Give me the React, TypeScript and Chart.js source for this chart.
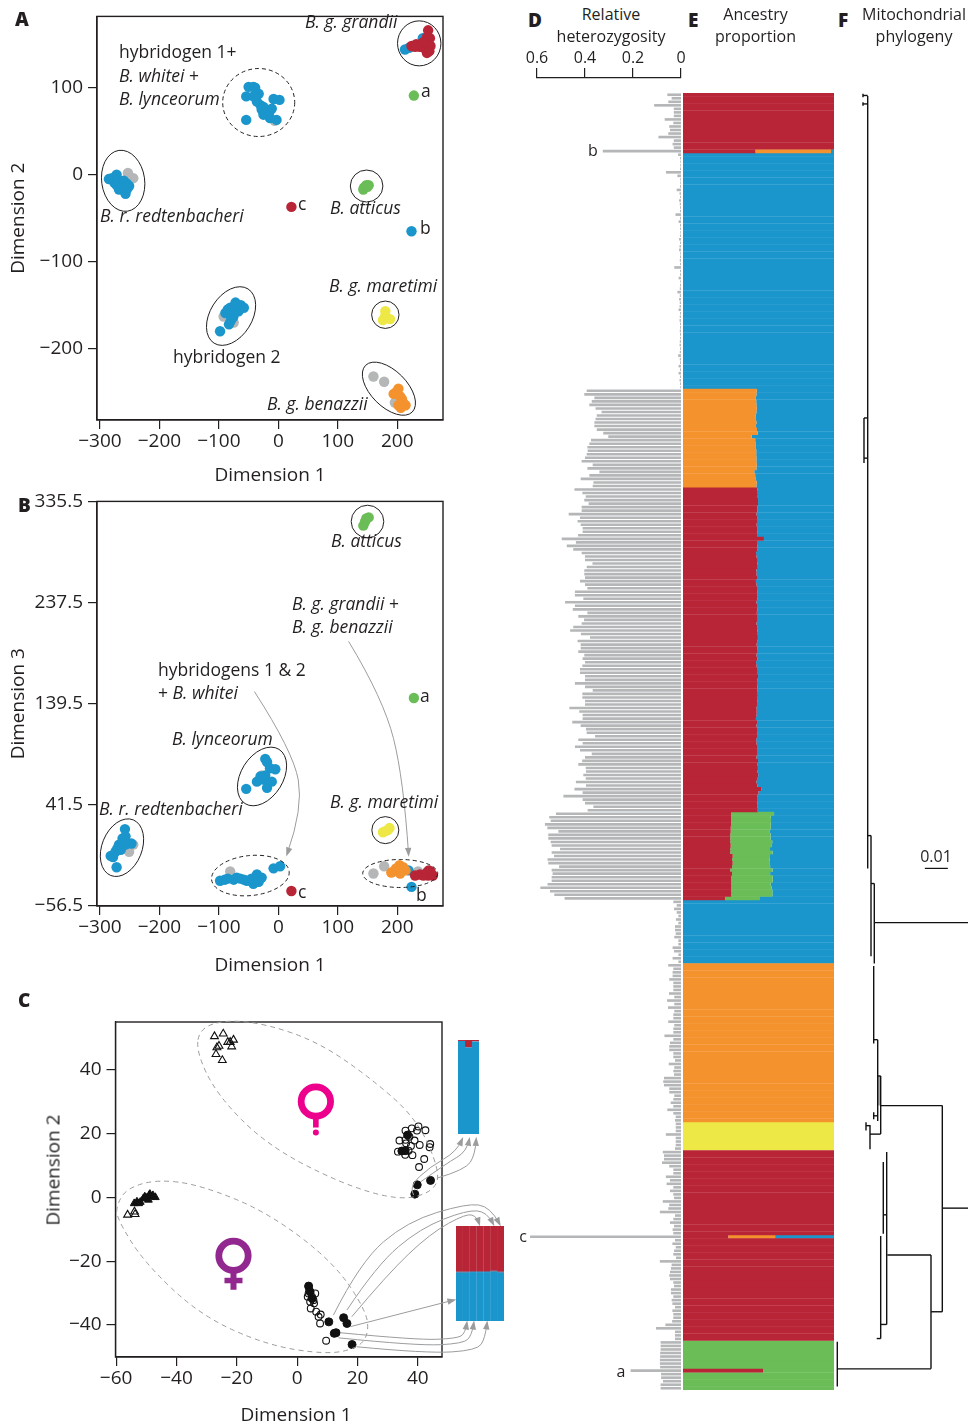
import { useEffect, useRef } from "react";
import { Chart, registerables } from "chart.js";
Chart.register(...registerables);

type P = [number, number];
const FONT = '"Open Sans", sans-serif';
const INK = "#231f20";
const RED = "#b82537";
const BLUE = "#1b96cc";
const ORANGE = "#f4922d";
const YELLOW = "#eee847";
const GREEN = "#6abd57";
const GREY = "#b4b6b7";
const ARROW = "#9a9c9e";

/* ---------- Panel A: dimension 1 vs dimension 2 ---------- */
const aRed: P[] = [[224,148],[232,150],[238,147],[245,146],[250,150],[255,157],[252,166],[250,158],[256,148],[250,140],[254,142],[243,152],[230,147],[22,-37]];
const aBlue: P[] = [[213,144],[220,146],[243,157],
  [-54,90],[-50,101],[-42,101],[-39,100],[-33,93],[-36,84],[-30,80],[-25,78],[-11,76],[-25,69],[-14,65],[-3,63],[-54,63],[-8,87],[2,86],[-20,72],[-15,72],[-42,90],[-28,75],
  [-285,-5],[-280,-4],[-272,0],[-276,-9],[-270,-6],[-266,-13],[-262,-9],[-257,-22],[-251,-13],[-260,-7],[-268,-17],[-260,-18],[-254,-16],[-272,-12],[-255,-10],
  [-98,-180],[-83,-172],[-80,-168],[-76,-164],[-89,-159],[-85,-155],[-81,-153],[-75,-161],[-72,-147],[-67,-157],[-63,-150],[-58,-153],[-70,-152],[-78,-158],
  [224,-65]];
const aGreen: P[] = [[228,91],[143,-17],[146,-14],[148,-12],[152,-12],[144,-15],[150,-14]];
const aYellow: P[] = [[180,-157],[176,-167],[188,-166],[180,-162]];
const aOrange: P[] = [[202,-246],[194,-252],[208,-258],[214,-265],[202,-265],[205,-255],[198,-250],[210,-262],[206,-268]];
const aGrey: P[] = [[-6,62],[-253,2],[-244,-4],[-92,-163],[-75,-170],[160,-232],[178,-238],[196,-262]];

/* ---------- Panel B: dimension 1 vs dimension 3 ---------- */
const bRed: P[] = [[22,-42],[230,-27],[238,-26],[253,-22],[252,-27],[244,-27],[260,-27],[250,-24],[256,-23]];
const bOrange: P[] = [[194,-23],[204,-17],[214,-22],[205,-25],[190,-24],[198,-20],[210,-19]];
const bYellow: P[] = [[176,15],[187,19],[180,16],[184,17]];
const bGreen: P[] = [[143,312],[152,320],[146,316],[148,319],[228,145]];
const bBlue: P[] = [[224,-38],[219,-22],
  [-54,57],[-22,86],[-5,76],[-36,64],[-19,58],[-11,64],[-25,66],[-19,83],[-14,77],[-22,70],[-30,69],
  [-272,-19],[-282,-8],[-258,18],[-247,4],[-268,3],[-262,9],[-274,-4],[-257,11],[-271,-1],[-257,3],[-278,-9],[-265,-2],
  [-98,-32],[-85,-30],[-75,-31],[-64,-30],[-53,-32],[-42,-35],[-36,-26],[-28,-29],[-33,-33],[-45,-30],[-8,-20],[3,-18],[-90,-31],[-70,-29],[-58,-31],[-38,-30]];
const bGrey: P[] = [[-28,70],[-251,-4],[-244,3],[-81,-23],[160,-25],[178,-18],[235,-23]];

/* ---------- Panel C: second ordination ---------- */
const cOpenTriangles: P[] = [[-27.4,50.4],[-24.5,51.2],[-21.1,49.3],[-23,48.6],[-25.9,47.4],[-26.6,46.9],[-21.7,47.2],[-26.9,44.8],[-24.8,42.9],[-22.2,48.6],[-56.2,-5.5],[-53.7,-5.3],[-53.9,-4.5]];
const cFilledTriangles: P[] = [[-54,-1.9],[-53.1,-1.4],[-52,-1.5],[-51,-.4],[-50,-.2],[-49,.7],[-48,.2],[-47,0],[-52.5,-1.9],[-49.3,-.8],[-50.5,.2],[-48.8,1],[-47.8,.6]];
const cOpenCircles: P[] = [[35.9,20.9],[38,21.6],[40.2,22.2],[42.5,21],[39.7,20.9],[33.9,17.8],[35.9,18],[38.9,17.8],[40.6,16.4],[44.1,16.7],[43.9,15.7],[37.7,16.1],[33.4,14.3],[35.8,13.3],[38.2,13.2],[42.1,12],[40.4,9.5],[36.9,14.6],[36.1,16.9],[37.2,19],
  [3.8,-28],[4,-29],[3.8,-30.1],[6,-30.1],[3.5,-31.1],[4.9,-31.1],[5.4,-32.2],[4.3,-32.7],[5.6,-33.2],[4.5,-34.8],[6.3,-35.8],[7.8,-36.7],[7.1,-37.4],[7.6,-39.5],[9.6,-44.9]];
const cFilledCircles: P[] = [[36.6,19.5],[34.7,14.5],[35.8,14.6],[39.8,3.9],[44.2,5.3],[39,1],
  [3.8,-27.8],[4.3,-29.6],[5,-31.7],[10.5,-39],[15.4,-37.7],[16.5,-39.5],[12.9,-42.4],[12.3,-42.6],[18.2,-46.1]];

/* Ancestry insets linked to panel C's filled circles */
const insetOneBlue = [0.99, 0.92, 0.985];
const insetOneRed = [0.01, 0.08, 0.015];
const insetTwoBlue = [0.515, 0.515, 0.52, 0.52, 0.52, 0.525, 0.515];
const insetTwoRed = [0.485, 0.485, 0.48, 0.48, 0.48, 0.475, 0.485];

/* ---------- Panels D + E: one row per individual, top to bottom ---------- */
const hetTop = [.057,.039,.053,.112,.03,.03,.03,.068,.032,.049,.046,.053,.094,.03,.035,.03,.326];
const hetBlueA = [.012,.004,.003,.003,.004,.0625,.015,.003,.003,.004,
  .018,.006,.004,.008,.005,.004,.004,.023,.004,.01,
  .004,.004,.003,.004,.008,.004,.006,.008,.003,.004,
  .005,.004,.028,.004,.004,.01,.003,.004,.005,.015,
  .005,.008,.005,.006,.01,.004,.005,.006,.004,.004,
  .005,.004,.004,.005,.006,.004,.005,.012,.005,.004,
  .01,.004,.01,.004,.006,.004,.003];
const hetHybridOrange = [.393,.403,.361,.372,.382,.356,.331,.351,.356,.361,.361,.351,.324,.303,.375,.382,.39,.389,.393,.4,.414,.368,.39,.34,.382,.418,.365,.368];
const hetHybridRed = [.444,.411,.397,.403,.385,.414,.414,.468,.421,.431,.418,.41,.41,.429,.497,.438,.476,.449,.414,.4,.4,.369,.393,.403,.403,.4,.421,.4,.39,.442,.442,.407,.483,.442,.451,.39,.428,.404,.414,.449,.462,.417,.379,.431,.418,.418,.428,.403,.41,
  .4,.411,.421,.421,.4,.4,.442,.4,.368,.411,.411,.4,.4,.465,.424,.41,.41,.453,.418,.396,.393,.358,.428,.41,.442,.421,.372,.4,.412,.428,.397,.396,.407,.397,.438,.396,.444,.41,.49,.41,.4,.365,.389];
const hetTriploid = [.521,.549,.543,.567,.557,.511,.553,.553,.543,.539,.504,.539,.529,.556,.553,.508,.539,.535,.539,.539,.556,.586,.546,.528,.485];
const hetBlueB = [.032,.018,.029,.018,.011,.021,.011,.025,.025,.022,.028,.011,.011,.035,.029,.011,.035,.011];
const hetOrange = [.053,.032,.035,.035,.049,.032,.032,.032,.05,.028,.058,.028,.054,.028,.032,.032,.053,.028,.032,.032,.069,.032,.046,.049,.049,.032,.032,.025,.051,.028,.032,.029,.071,.074,.071,.049,.049,.028,.032,.043,.032,.057,.032,.022,.025];
const hetYellow = [.022,.022,.022,.063,.022,.022,.022,.025];
const hetRed = [.076,.071,.071,.079,.049,.032,
  .032,.063,.046,.06,.032,.046,.032,.029,.076,.049,.053,.088,.025,.032,.046,.029,.035,.032,.629,.025,
  .036,.022,.029,.032,.021,.088,.039,.042,.046,.049,.046,.032,.029,.042,.042,.032,.039,.036,.025,.036,
  .032,.032,.037,.065,.104,.025,.025,.025];
const hetGreen = [.085,.085,.085,.087,.087,.088,.088,.087,.21,.083,.083,.075,.085,.085];
const heterozygosity = [...hetTop,...hetBlueA,...hetHybridOrange,...hetHybridRed,...hetTriploid,...hetBlueB,...hetOrange,...hetYellow,...hetRed,...hetGreen];
const rows = heterozygosity.map((_, i) => String(i + 1));

const same = (n: number, v: number) => new Array(n).fill(v);
const orangeInHybrid = [.488,.486,.483,.485,.486,.488,.486,.48,.483,.486,.483,.49,.495,.455,.478,.483,.483,.485,.485,.486,.486,.488,.486,.472,.478,.483,.488,.486];
const redInHybrid = [.493,.495,.49,.497,.497,.492,.493,.487,.494,.49,.488,.491,.493,.49,.536,.49,.492,.494,.484,.487,.49,.493,.495,.486,.487,.49,.483,.487,.49,.492,.491,.493,.486,.49,.492,.489,.495,.49,.487,.491,.493,.49,.496,.491,.488,.493,.49,.487,.493,
  .484,.487,.49,.495,.497,.493,.49,.492,.494,.495,.49,.492,.49,.487,.488,.487,.483,.49,.487,.49,.494,.49,.485,.487,.49,.49,.49,.487,.497,.494,.496,.494,.498,.49,.486,.493,.52,.5,.494,.49,.493,.494,.495];
const redInTriploid = [.318,.318,.318,.318,.316,.316,.313,.313,.313,.316,.313,.313,.329,.325,.329,.325,.313,.325,.318,.32,.32,.318,.32,.32,.278];
const greenInTriploid = [.285,.263,.265,.263,.265,.256,.267,.267,.278,.269,.258,.28,.247,.249,.243,.252,.28,.252,.276,.274,.26,.269,.272,.272,.227];
const ancestryRed = [...same(16,1),.48,...same(67,0),...same(28,0),...redInHybrid,...redInTriploid,...same(18,0),...same(45,0),...same(8,0),...same(24,1),.3,...same(29,1),...same(8,0),.53,...same(5,0)];
const ancestryOrange = [...same(16,0),.5,...same(67,0),...orangeInHybrid,...same(92,0),...same(25,0),...same(18,0),...same(45,1),...same(8,0),...same(24,0),.31,...same(29,0),...same(14,0)];
const ancestryGreen = [...same(17,0),...same(67,0),...same(28,0),...same(92,0),...greenInTriploid,...same(18,0),...same(45,0),...same(8,0),...same(54,0),...same(8,1),.47,...same(5,1)];
const ancestryYellow = [...same(17,0),...same(67,0),...same(28,0),...same(92,0),...same(25,0),...same(18,0),...same(45,0),...same(8,1),...same(54,0),...same(14,0)];
const ancestryBlue = rows.map((_, i) => Math.max(0, 1 - ancestryRed[i] - ancestryOrange[i] - ancestryGreen[i] - ancestryYellow[i]));

/* ---------- Panel F: tree branches [x1, row1, x2, row2], x in units of 0.01 subs/site ---------- */
const treeBranches: number[][] = [
  [1.465,.85,1.465,220],[1.26,.7,1.465,.7],[1.26,3.1,1.465,3.1],[1.26,.2,1.26,1.2],[1.26,2.6,1.26,3.6],
  [1.304,92.2,1.465,92.2],[1.304,92.2,1.304,105],[1.304,103.6,1.465,103.6],
  [1.465,210.7,1.609,210.7],[1.609,210.7,1.609,244.9],[1.609,224.3,1.752,224.3],[1.752,224.3,1.752,247],[1.752,235.4,5.826,235.4],
  [1.726,247.7,1.726,269.7],[1.726,268.6,1.9,268.6],[1.9,268.6,1.9,291.7],[1.726,290.2,1.9,290.2],[1.726,289.2,1.726,291.2],
  [1.9,278.9,2.03,278.9],[2.03,278.9,2.03,295.4],[2.03,287.3,4.709,287.3],[1.565,295.4,2.03,295.4],[1.565,292.8,1.565,299.7],[1.391,293,1.565,293],[1.391,292,1.391,294.4],
  [4.709,287.3,4.709,345.8],[4.217,345.8,4.709,345.8],[4.217,329.7,4.217,362],[2.317,329.7,4.217,329.7],[.143,362,4.217,362],[.143,354.3,.143,367],
  [2.291,300.5,2.291,349.4],[2.143,318.3,2.291,318.3],[2.143,303.3,2.143,323.7],[2.03,349.4,2.291,349.4],[2.03,324.3,2.03,353.4],[1.857,353.4,2.03,353.4],
  [4.709,316.4,5.826,316.4],
];
const treeShaded: P[] = [[1.965,278.9],[1.965,287.3]];
const treeScaleBar: P[] = [[3.95,220],[4.95,220]];

/* ---------- Annotations, all in each panel's data units ---------- */
type Ell = { c: P; rx: number; ry: number; rot?: number; dash?: boolean };
const aEllipses: Ell[] = [
  { c: [237,151], rx: 21.7, ry: 22.5 },
  { c: [-33,83], rx: 36, ry: 34, dash: true },
  { c: [-261,-7], rx: 21.5, ry: 30.7, rot: -8 },
  { c: [148.5,-13], rx: 16.3, ry: 16 },
  { c: [-79.5,-162.5], rx: 32, ry: 21, rot: -58 },
  { c: [180,-161], rx: 13.7, ry: 13.7 },
  { c: [186,-246], rx: 33, ry: 18, rot: 45 },
];
const bEllipses: Ell[] = [
  { c: [150,316], rx: 16.3, ry: 16.3 },
  { c: [-27.4,69], rx: 32, ry: 21, rot: -58 },
  { c: [-263,0], rx: 30, ry: 20, rot: -68 },
  { c: [-47,-27], rx: 39, ry: 20, rot: -6, dash: true },
  { c: [180,17], rx: 13.5, ry: 13.5 },
  { c: [205,-25], rx: 37.5, ry: 14, dash: true },
];
const bArrows: P[][] = [
  [[-40.3,151.3],[25.2,92.9],[42,38.3],[15,-5.7]],
  [[118.2,199.9],[177,144],[210.6,67.3],[219,-6]],
];
const cBlobs: P[][] = [
  [[-32.2,53],[-23.3,55.6],[-10.1,54.2],[6.5,48.8],[23.1,38.3],[39.7,24.7],[47.4,8],[45.2,1.8],[34.1,-1.1],[14.3,4.4],[-10.1,16.4],[-26.6,32.1],[-33.5,45.7]],
  [[-59.8,-2.4],[-56.5,2.8],[-46.5,5.6],[-32.2,3.9],[-10.1,-4.5],[12,-20.2],[23.1,-35.8],[23.6,-43.2],[19.8,-47.3],[9.8,-49.2],[-10.1,-46.3],[-32.2,-36.9],[-50.9,-20.2],[-59.8,-6.5]],
];
const cArrows: P[][] = [
  [[38.6,.7],[36.9,3.3],[44.1,9.6],[52.9,14.3],[54.6,18]],
  [[41,4.9],[49.6,10.7],[56.2,14.3],[57,18]],
  [[46.3,6],[55.7,8.6],[59,13.3],[59.3,18]],
  [[12,-36.9],[20.9,-20.2],[36.4,-7.6],[56.2,-1.9],[64,-2.9],[67,-8.2]],
  [[16.5,-35.3],[26.4,-21.2],[40.8,-9.7],[56.2,-4],[62.9,-4.5],[64.9,-8.2]],
  [[18.1,-37.4],[29.7,-24.3],[44.1,-11.3],[56.2,-5],[59.6,-6.1],[60.3,-8.2]],
  [[17.6,-40.5],[51.8,-32.2]],
  [[14.3,-42.4],[39.7,-44.7],[52.9,-44.2],[55.7,-42.6],[56.2,-39.5]],
  [[13.7,-44],[39.7,-46.5],[55.1,-45.8],[57.9,-43.2],[58.5,-39.5]],
  [[19.8,-46.8],[43,-48.9],[59.6,-47.9],[62.3,-44.2],[62.9,-39.5]],
];

/* ---------- Free text ---------- */
type Run = [string, boolean];
type Lab = { x: number; y: number; runs: Run[]; size?: number; bold?: boolean; center?: boolean };
const it = (s: string): Run[] => [[s, true]];
const up = (s: string): Run[] => [[s, false]];
const texts: Lab[] = [
  { x: 15, y: 19, runs: up("A"), bold: true, size: 19 }, { x: 18, y: 505, runs: up("B"), bold: true, size: 19 },
  { x: 18, y: 1000, runs: up("C"), bold: true, size: 19 }, { x: 528, y: 20, runs: up("D"), bold: true, size: 19 },
  { x: 688, y: 20, runs: up("E"), bold: true, size: 19 }, { x: 838, y: 20, runs: up("F"), bold: true, size: 19 },
  { x: 611, y: 14, runs: up("Relative"), center: true, size: 16 }, { x: 611, y: 36, runs: up("heterozygosity"), center: true, size: 16 },
  { x: 755.5, y: 14, runs: up("Ancestry"), center: true, size: 16 }, { x: 755.5, y: 36, runs: up("proportion"), center: true, size: 16 },
  { x: 914, y: 14, runs: up("Mitochondrial"), center: true, size: 16 }, { x: 914, y: 36, runs: up("phylogeny"), center: true, size: 16 },
  { x: 936, y: 856, runs: up("0.01"), center: true, size: 16 },
  { x: 593, y: 150, runs: up("b"), center: true, size: 16 }, { x: 523, y: 1236, runs: up("c"), center: true, size: 16 }, { x: 621, y: 1371, runs: up("a"), center: true, size: 16 },
  // panel A
  { x: 305, y: 22, runs: it("B. g. grandii") }, { x: 119, y: 52, runs: up("hybridogen 1+") },
  { x: 119, y: 76, runs: [["B. whitei", true], [" +", false]] }, { x: 119, y: 99, runs: it("B. lynceorum") },
  { x: 421, y: 91, runs: up("a") }, { x: 298, y: 204, runs: up("c") }, { x: 420, y: 228, runs: up("b") },
  { x: 100, y: 216, runs: it("B. r. redtenbacheri") }, { x: 330, y: 208, runs: it("B. atticus") },
  { x: 329, y: 286, runs: it("B. g. maretimi") }, { x: 173, y: 357, runs: up("hybridogen 2") }, { x: 267, y: 404, runs: it("B. g. benazzii") },
  // panel B
  { x: 331, y: 541, runs: it("B. atticus") }, { x: 292, y: 604, runs: [["B. g. grandii", true], [" +", false]] },
  { x: 292, y: 627, runs: it("B. g. benazzii") }, { x: 158, y: 670, runs: up("hybridogens 1 & 2") },
  { x: 158, y: 693, runs: [["+ ", false], ["B. whitei", true]] }, { x: 172, y: 739, runs: it("B. lynceorum") },
  { x: 99, y: 809, runs: it("B. r. redtenbacheri") }, { x: 330, y: 802, runs: it("B. g. maretimi") },
  { x: 420, y: 696, runs: up("a") }, { x: 298, y: 892, runs: up("c") }, { x: 416, y: 895, runs: up("b") },
  // panel C axis title along x
  { x: 296, y: 1414, runs: up("Dimension 1"), center: true, size: 19 },
];

/* ---------- Drawing helpers ---------- */
function tracePath(ctx: CanvasRenderingContext2D, p: P[], closed = false) {
  const mid = (a: P, b: P): P => [(a[0] + b[0]) / 2, (a[1] + b[1]) / 2];
  ctx.beginPath();
  if (closed) {
    const s = mid(p[p.length - 1], p[0]);
    ctx.moveTo(s[0], s[1]);
    p.forEach((q, i) => {
      const m = mid(q, p[(i + 1) % p.length]);
      ctx.quadraticCurveTo(q[0], q[1], m[0], m[1]);
    });
    ctx.closePath();
  } else {
    ctx.moveTo(p[0][0], p[0][1]);
    for (let i = 1; i < p.length - 1; i++) {
      const m = i === p.length - 2 ? p[i + 1] : mid(p[i], p[i + 1]);
      ctx.quadraticCurveTo(p[i][0], p[i][1], m[0], m[1]);
    }
    if (p.length === 2) ctx.lineTo(p[1][0], p[1][1]);
  }
}

function annotate(o: { ellipses?: Ell[]; arrows?: P[][]; blobs?: P[][]; gender?: boolean }) {
  return {
    id: "annotate",
    afterDraw(chart: any) {
      const { ctx, chartArea: a, scales } = chart;
      const px = (q: P): P => [scales.x.getPixelForValue(q[0]), scales.y.getPixelForValue(q[1])];
      ctx.save();
      ctx.strokeStyle = INK;
      ctx.lineWidth = 1.4;
      ctx.strokeRect(a.left, a.top, a.right - a.left, a.bottom - a.top);
      ctx.lineWidth = 1;
      (o.ellipses || []).forEach((e) => {
        const [cx, cy] = px(e.c);
        ctx.setLineDash(e.dash ? [4, 3] : []);
        ctx.beginPath();
        ctx.ellipse(cx, cy, e.rx, e.ry, ((e.rot || 0) * Math.PI) / 180, 0, Math.PI * 2);
        ctx.stroke();
      });
      ctx.setLineDash([5, 4]);
      ctx.strokeStyle = ARROW;
      (o.blobs || []).forEach((b) => {
        tracePath(ctx, b.map(px), true);
        ctx.stroke();
      });
      ctx.setLineDash([]);
      ctx.fillStyle = ARROW;
      (o.arrows || []).forEach((r) => {
        const p = r.map(px);
        tracePath(ctx, p);
        ctx.stroke();
        const e = p[p.length - 1];
        const f = p[p.length - 2];
        const t = Math.atan2(e[1] - f[1], e[0] - f[0]);
        ctx.beginPath();
        ctx.moveTo(e[0] + 3 * Math.cos(t), e[1] + 3 * Math.sin(t));
        ctx.lineTo(e[0] - 6 * Math.cos(t) - 3.2 * Math.sin(t), e[1] - 6 * Math.sin(t) + 3.2 * Math.cos(t));
        ctx.lineTo(e[0] - 6 * Math.cos(t) + 3.2 * Math.sin(t), e[1] - 6 * Math.sin(t) - 3.2 * Math.cos(t));
        ctx.closePath();
        ctx.fill();
      });
      if (o.gender) {
        const [x1, y1] = px([6.2, 30]);
        ctx.strokeStyle = ctx.fillStyle = "#ec008c";
        ctx.lineWidth = 6.8;
        ctx.beginPath();
        ctx.arc(x1, y1, 14.7, 0, Math.PI * 2);
        ctx.stroke();
        ctx.fillRect(x1 - 2.8, y1 + 17, 5.6, 9);
        ctx.beginPath();
        ctx.arc(x1, y1 + 31, 3, 0, Math.PI * 2);
        ctx.fill();
        const [x2, y2] = px([-21.1, -18.3]);
        ctx.strokeStyle = ctx.fillStyle = "#92278f";
        ctx.beginPath();
        ctx.arc(x2, y2, 14.7, 0, Math.PI * 2);
        ctx.stroke();
        ctx.fillRect(x2 - 3, y2 + 17, 6, 17);
        ctx.fillRect(x2 - 9, y2 + 22, 18, 5.5);
      }
      ctx.restore();
    },
  };
}

const minus = (v: any) => String(v).replace("-", "\u2212");

function dots(data: P[], color: string, r = 5.2) {
  return { data: data.map(([x, y]) => ({ x, y })), backgroundColor: color, borderWidth: 0, pointRadius: r, pointHoverRadius: r };
}

function axes(o: { xMin: number; xMax: number; yMin: number; yMax: number; xStep: number; yStep: number; leftGut: number; botGut: number; xTitle?: string; yTitle?: string }) {
  const common = {
    grid: { drawOnChartArea: false, drawTicks: true, tickLength: 9, color: INK, lineWidth: 1.2 },
    border: { display: true, color: INK, width: 1.2 },
  };
  const font = { family: FONT, size: 19 };
  return {
    x: {
      type: "linear", min: o.xMin, max: o.xMax, ...common,
      ticks: { stepSize: o.xStep, includeBounds: false, autoSkip: false, maxRotation: 0, color: INK, font, padding: 1, callback: minus },
      afterFit: (s: any) => { s.height = o.botGut; },
      title: { display: !!o.xTitle, text: o.xTitle, color: INK, font, padding: { top: 0, bottom: 3 } },
    },
    y: {
      type: "linear", min: o.yMin, max: o.yMax, ...common,
      ticks: { stepSize: o.yStep, includeBounds: false, autoSkip: false, color: INK, font, padding: 5, callback: minus },
      afterFit: (s: any) => { s.width = o.leftGut; },
      title: { display: !!o.yTitle, text: o.yTitle, color: INK, font, padding: { top: 7, bottom: 0 } },
    },
  };
}
const base = { responsive: false, animation: false, plugins: { legend: { display: false }, tooltip: { enabled: false } } };

const configs: any[] = [
  {
    box: [0, 0, 460, 490],
    type: "scatter",
    data: { datasets: [dots(aRed, RED), dots(aOrange, ORANGE), dots(aYellow, YELLOW), dots(aGreen, GREEN), dots(aBlue, BLUE), dots(aGrey, GREY)] },
    options: { ...base, layout: { padding: { top: 12, right: 17 } }, scales: axes({ xMin: -305, xMax: 277, yMin: -282, yMax: 182, xStep: 100, yStep: 100, leftGut: 97, botGut: 70, xTitle: "Dimension 1", yTitle: "Dimension 2" }) },
    plugins: [annotate({ ellipses: aEllipses })],
  },
  {
    box: [0, 485, 460, 495],
    type: "scatter",
    data: { datasets: [dots(bRed, RED), dots(bOrange, ORANGE), dots(bYellow, YELLOW), dots(bGreen, GREEN), dots(bBlue, BLUE), dots(bGrey, GREY)] },
    options: { ...base, layout: { padding: { top: 12, right: 17 } }, scales: axes({ xMin: -305, xMax: 277, yMin: -56.5, yMax: 335.5, xStep: 100, yStep: 100, leftGut: 97, botGut: 74, xTitle: "Dimension 1", yTitle: "Dimension 3" }) },
    plugins: [annotate({ ellipses: bEllipses, arrows: bArrows })],
  },
  {
    box: [30, 1000, 500, 427],
    type: "scatter",
    data: {
      datasets: [
        { data: cFilledCircles.map(([x, y]) => ({ x, y })), pointStyle: "circle", pointRadius: 4, backgroundColor: "#111", borderColor: "#111", borderWidth: 1 },
        { data: cOpenCircles.map(([x, y]) => ({ x, y })), pointStyle: "circle", pointRadius: 3.4, backgroundColor: "rgba(255,255,255,0)", borderColor: "#111", borderWidth: 1.1 },
        { data: cFilledTriangles.map(([x, y]) => ({ x, y })), pointStyle: "triangle", pointRadius: 4.5, backgroundColor: "#111", borderColor: "#111", borderWidth: 1 },
        { data: cOpenTriangles.map(([x, y]) => ({ x, y })), pointStyle: "triangle", pointRadius: 4.5, backgroundColor: "rgba(255,255,255,0)", borderColor: "#111", borderWidth: 1.1 },
      ],
    },
    options: { ...base, layout: { padding: { top: 22, right: 88 } }, scales: axes({ xMin: -60.2, xMax: 48, yMin: -50, yMax: 54.9, xStep: 20, yStep: 20, leftGut: 85.5, botGut: 70 }) },
    plugins: [annotate({ blobs: cBlobs, arrows: cArrows, gender: true })],
  },
  {
    box: [458, 1040, 21, 94],
    type: "bar",
    data: { labels: ["i1", "i2", "i3"], datasets: [{ data: insetOneBlue, backgroundColor: BLUE }, { data: insetOneRed, backgroundColor: RED }] },
    options: { ...base, datasets: { bar: { barPercentage: 1.03, categoryPercentage: 1 } }, scales: { x: { stacked: true, display: false }, y: { stacked: true, display: false, min: 0, max: 1 } } },
  },
  {
    box: [455.5, 1226, 48, 94.5],
    type: "bar",
    data: { labels: ["i1", "i2", "i3", "i4", "i5", "i6", "i7"], datasets: [{ data: insetTwoBlue, backgroundColor: BLUE }, { data: insetTwoRed, backgroundColor: RED }] },
    options: { ...base, datasets: { bar: { barPercentage: 1.03, categoryPercentage: 1 } }, scales: { x: { stacked: true, display: false }, y: { stacked: true, display: false, min: 0, max: 1 } } },
  },
  {
    box: [515, 93, 166, 1297],
    type: "bar",
    data: { labels: rows, datasets: [{ data: heterozygosity, backgroundColor: GREY }] },
    options: { ...base, indexAxis: "y", datasets: { bar: { barPercentage: 0.74, categoryPercentage: 1 } }, scales: { x: { display: false, reverse: true, min: 0, max: 0.6917 }, y: { display: false } } },
  },
  {
    box: [515, 40, 175, 40],
    type: "scatter",
    data: { datasets: [] },
    options: {
      ...base,
      layout: { padding: { left: 22, right: 9 } },
      scales: {
        x: {
          position: "top", type: "linear", reverse: true, min: 0, max: 0.6,
          grid: { drawOnChartArea: false, tickLength: 10, color: INK, lineWidth: 1.2 },
          border: { display: true, color: INK, width: 1.2 },
          ticks: { stepSize: 0.2, autoSkip: false, maxRotation: 0, color: INK, font: { family: FONT, size: 16 }, padding: 0, callback: (v: number) => (v === 0 ? "0" : v.toFixed(1)) },
          afterFit: (s: any) => { s.height = 38; },
        },
        y: { display: false, min: 0, max: 1 },
      },
    },
  },
  {
    box: [683, 93, 151, 1297],
    type: "bar",
    data: {
      labels: rows,
      datasets: [
        { data: ancestryRed, backgroundColor: RED },
        { data: ancestryOrange, backgroundColor: ORANGE },
        { data: ancestryGreen, backgroundColor: GREEN },
        { data: ancestryYellow, backgroundColor: YELLOW },
        { data: ancestryBlue, backgroundColor: BLUE },
      ],
    },
    options: { ...base, indexAxis: "y", datasets: { bar: { barPercentage: 1.12, categoryPercentage: 1 } }, scales: { x: { stacked: true, display: false, min: 0, max: 1 }, y: { stacked: true, display: false } } },
  },
  {
    box: [834, 93, 134, 1297],
    type: "scatter",
    data: {
      datasets: [
        ...treeBranches.map((b) => ({ data: [{ x: b[0], y: b[1] }, { x: b[2], y: b[3] }], showLine: true, borderColor: "#111", borderWidth: 1.4, pointRadius: 0 })),
        { data: treeShaded.map(([x, y]) => ({ x, y })), showLine: true, borderColor: "#a9abad", borderWidth: 3, pointRadius: 0 },
        { data: treeScaleBar.map(([x, y]) => ({ x, y })), showLine: true, borderColor: "#111", borderWidth: 1.2, pointRadius: 0 },
      ],
    },
    options: { ...base, scales: { x: { type: "linear", display: false, min: 0, max: 5.826 }, y: { type: "linear", display: false, reverse: true, min: 0, max: 368 } } },
  },
];

function Panel({ cfg }: { cfg: any }) {
  const ref = useRef<HTMLCanvasElement>(null);
  useEffect(() => {
    const { box, ...rest } = cfg;
    const chart = new Chart(ref.current as any, rest);
    return () => chart.destroy();
  }, [cfg]);
  const [left, top, width, height] = cfg.box;
  return <canvas ref={ref} width={width} height={height} style={{ position: "absolute", left, top, width, height, display: "block" }} />;
}

export default function App() {
  return (
    <div style={{ position: "relative", width: 968, height: 1427, overflow: "hidden", background: "#fff", fontFamily: FONT, color: INK }}>
      <style>{"body{margin:0}"}</style>
      {configs.map((c, i) => (
        <Panel key={i} cfg={c} />
      ))}
      {texts.map((t, i) => (
        <span
          key={i}
          style={{
            position: "absolute", left: t.x, top: t.y, whiteSpace: "nowrap", lineHeight: 1,
            fontSize: t.size || 17.5, fontWeight: t.bold ? 800 : 400,
            transform: t.center ? "translate(-50%,-50%)" : "translateY(-50%)",
          }}
        >
          {t.runs.map((r, j) => (
            <span key={j} style={{ fontStyle: r[1] ? "italic" : "normal" }}>{r[0]}</span>
          ))}
        </span>
      ))}
      <span style={{ position: "absolute", left: 53, top: 1170, fontSize: 19, lineHeight: 1, whiteSpace: "nowrap", transform: "translate(-50%,-50%) rotate(-90deg)" }}>Dimension 2</span>
    </div>
  );
}
